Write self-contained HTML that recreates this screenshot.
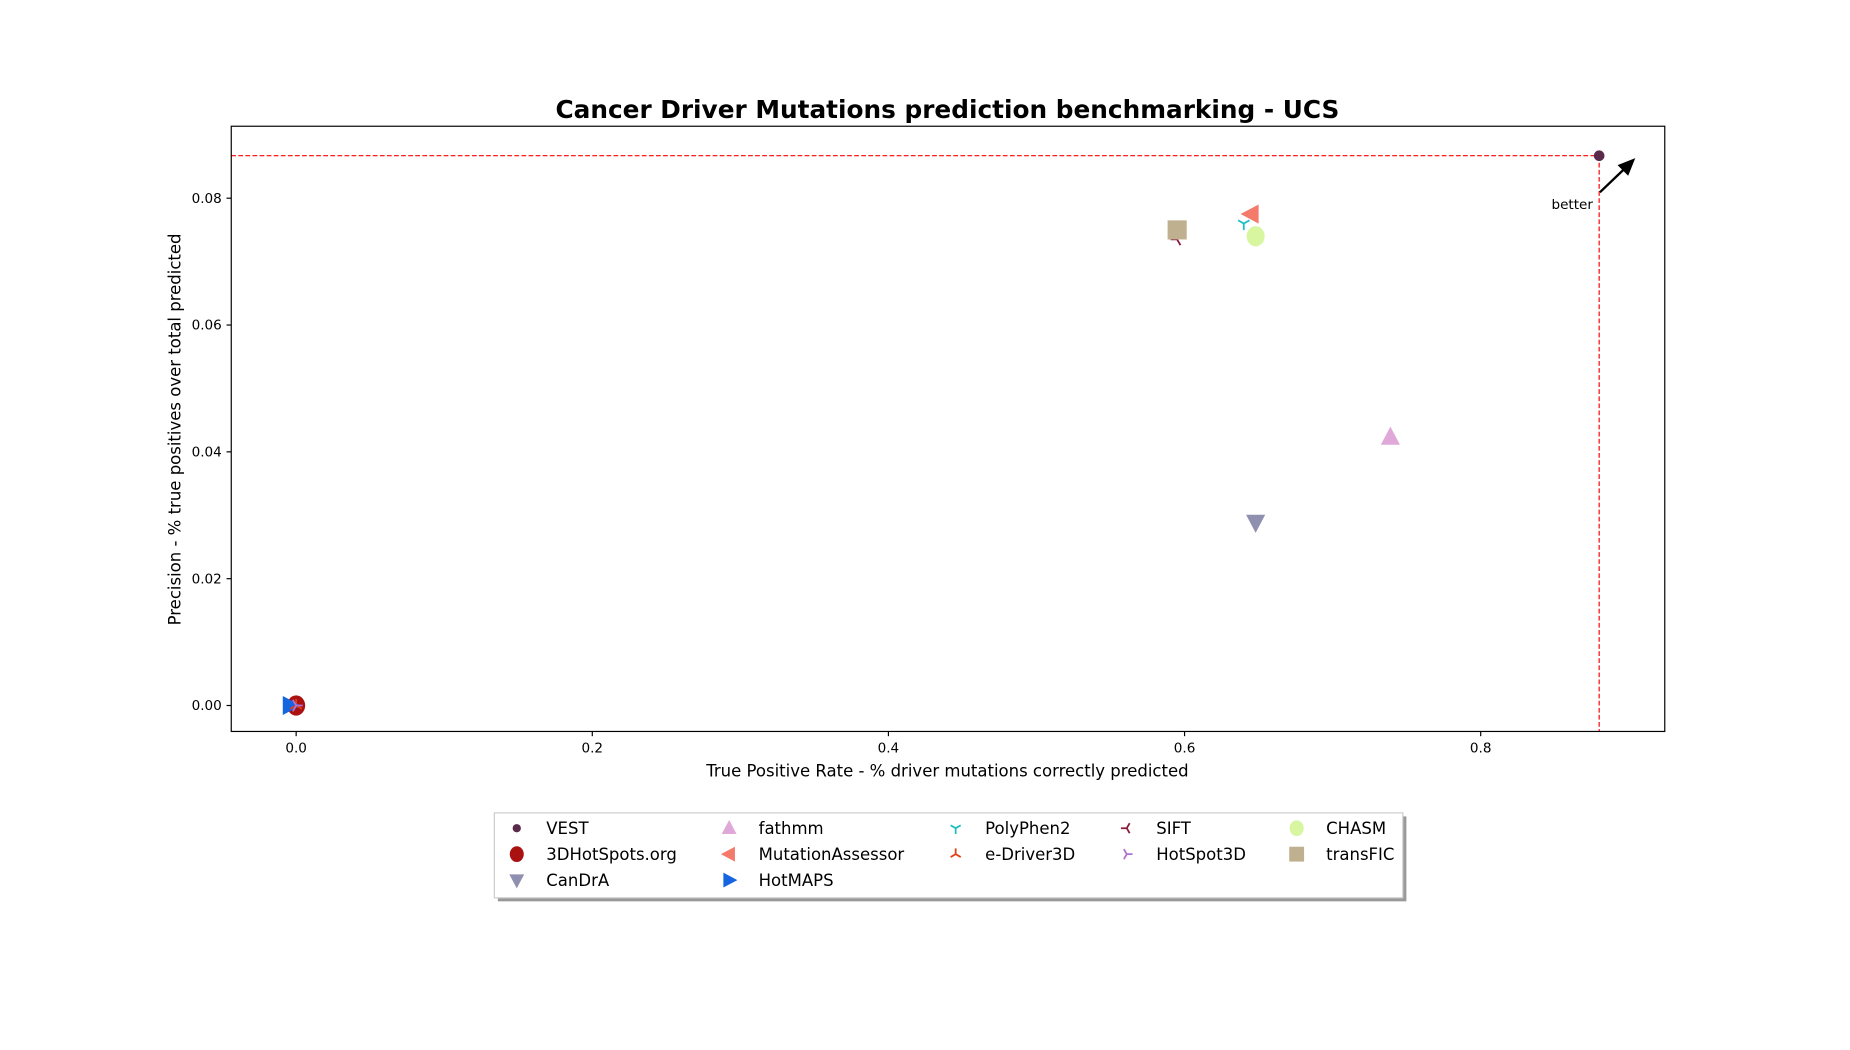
<!DOCTYPE html>
<html><head><meta charset="utf-8"><style>
html,body{margin:0;padding:0;background:#fff;}
svg{display:block;font-family:"DejaVu Sans","Liberation Sans",sans-serif;}
</style></head><body>
<svg id="chart" width="1850" height="1050" viewBox="0 0 1568 890" preserveAspectRatio="none" xmlns="http://www.w3.org/2000/svg">
<text x="803" y="100" text-anchor="middle" font-size="21" font-weight="bold">Cancer Driver Mutations prediction benchmarking - UCS</text>
<g id="plot"></g>
<rect x="196" y="107" width="1215" height="513" fill="none" stroke="#000" stroke-width="1"/>
<text x="803" y="658" text-anchor="middle" font-size="14">True Positive Rate - % driver mutations correctly predicted</text>
<text transform="translate(153,364) rotate(-90)" text-anchor="middle" font-size="14">Precision - % true positives over total predicted</text>
<g>
<rect x="422" y="692" width="770" height="72" fill="#999"/>
<rect x="419" y="689" width="770" height="72" fill="#fff" stroke="#ccc"/>
<g id="legend"></g>
</g>
</svg>
<script>
const names=["VEST","3DHotSpots.org","CanDrA","fathmm","MutationAssessor","HotMAPS","PolyPhen2","e-Driver3D","SIFT","HotSpot3D","CHASM","transFIC"];
const tprValues=[0.880,0.0,0.648,0.739,0.645,-0.004,0.640,0.0,0.595,0.0,0.648,0.595];
const precisionValues=[0.0867,0.0,0.0289,0.0423,0.0775,0.0,0.0760,0.0,0.0735,0.0,0.0740,0.0750];
const colors=["#5a2a4a","#aa1111","#8f8fb0","#e0a8d8","#f47a6a","#1565e0","#20c0c0","#e04010","#8b1a3a","#b070d0","#d8f5a0","#bfb090"];
const shapes=["circleS","circle","tdown","tup","tleft","tright","tri1","tri2","tri3","tri4","circle","square"];
const xTicks=[0.0,0.2,0.4,0.6,0.8];
const yTicks=[0.00,0.02,0.04,0.06,0.08];
const NS="http://www.w3.org/2000/svg";
function xs(v){return 251+v*1255;}
function ys(v){return 598-v*5375;}
function mk(tag,a,p){const e=document.createElementNS(NS,tag);for(const k in a)e.setAttribute(k,a[k]);p.appendChild(e);return e;}
function marker(p,shape,cx,cy,col,s){
 let e;
 const tris=["tup","tdown","tleft","tright"];
 if(shape==="circleS")e=mk("circle",{cx:cx,cy:cy,r:s,fill:col},p);
 else if(shape==="circle")e=mk("ellipse",{cx:cx,cy:cy,rx:s*0.85,ry:s*0.95,fill:col},p);
 else if(shape==="square")e=mk("rect",{x:cx-s*0.9,y:cy-s*0.9,width:s*1.8,height:s*1.8,fill:col},p);
 else if(tris.includes(shape)){
  const r=s;let pts;
  if(shape==="tup")pts=[[0,-r],[r*0.9,r*0.7],[-r*0.9,r*0.7]];
  if(shape==="tdown")pts=[[0,r],[r*0.9,-r*0.7],[-r*0.9,-r*0.7]];
  if(shape==="tleft")pts=[[-r,0],[r*0.7,-r*0.9],[r*0.7,r*0.9]];
  if(shape==="tright")pts=[[r,0],[-r*0.7,-r*0.9],[-r*0.7,r*0.9]];
  e=mk("polygon",{points:pts.map(q=>(cx+q[0])+","+(cy+q[1])).join(" "),fill:col},p);
 } else {
  const rot={tri1:0,tri2:180,tri3:90,tri4:-90}[shape];
  e=mk("g",{transform:`translate(${cx},${cy}) rotate(${rot})`},p);
  const r=s*0.7;
  mk("path",{d:`M0 0 L0 ${r} M0 0 L${-r*0.87} ${-r*0.5} M0 0 L${r*0.87} ${-r*0.5}`,stroke:col,"stroke-width":1.5,fill:"none"},e);
 }
 return e;
}
const plot=document.getElementById("plot");
xTicks.forEach(t=>{
 const l=mk("line",{x1:xs(t),x2:xs(t),y1:620,y2:624,stroke:"#000"},plot);
 
 
 const tx=mk("text",{x:xs(t),y:638,"text-anchor":"middle","font-size":"11.5"},plot);
 tx.textContent=t.toFixed(1);
 
 
});
yTicks.forEach(t=>{
 const l=mk("line",{x1:192,x2:196,y1:ys(t),y2:ys(t),stroke:"#000"},plot);
 
 
 const tx=mk("text",{x:188,y:ys(t)+4,"text-anchor":"end","font-size":"11.5"},plot);
 tx.textContent=t.toFixed(2);
 
 
});
const bx=xs(tprValues[0]),by=ys(precisionValues[0]);
const hl=mk("line",{x1:196,x2:bx,y1:by,y2:by,stroke:"red","stroke-dasharray":"4,2"},plot);


const vl=mk("line",{x1:bx,x2:bx,y1:by,y2:620,stroke:"red","stroke-dasharray":"4,2"},plot);


const ar=mk("g",{},plot);


mk("line",{x1:1356,y1:163,x2:1378,y2:142,stroke:"#000","stroke-width":2},ar);
mk("polygon",{points:"1386,134 1371,140 1380,149",fill:"#000"},ar);
const bt=mk("text",{x:1315,y:177,"font-size":"11.5"},plot);
bt.textContent="better";


const sizes=[4.5,9,9,9,9,9,8,8,8,8,9,9];
names.forEach((n,i)=>{
 const m=marker(plot,shapes[i],xs(tprValues[i]),ys(precisionValues[i]),colors[i],sizes[i]);
 
 
});
const leg=document.getElementById("legend");
const colX=[438,618,810,955,1099];
const rowY=[702,724,746];
const layout=[[0,0],[0,1],[0,2],[1,0],[1,1],[1,2],[2,0],[2,1],[3,0],[3,1],[4,0],[4,1]];
names.forEach((n,i)=>{
 const cc=layout[i][0],rr=layout[i][1];
 const g=mk("g",{},leg);
 
 
 marker(g,shapes[i],colX[cc],rowY[rr],colors[i],sizes[i]<5?3.5:7);
 const t=mk("text",{x:colX[cc]+25,y:rowY[rr]+5,"font-size":"14"},g);
 t.textContent=n;
});
</script>
</body></html>
